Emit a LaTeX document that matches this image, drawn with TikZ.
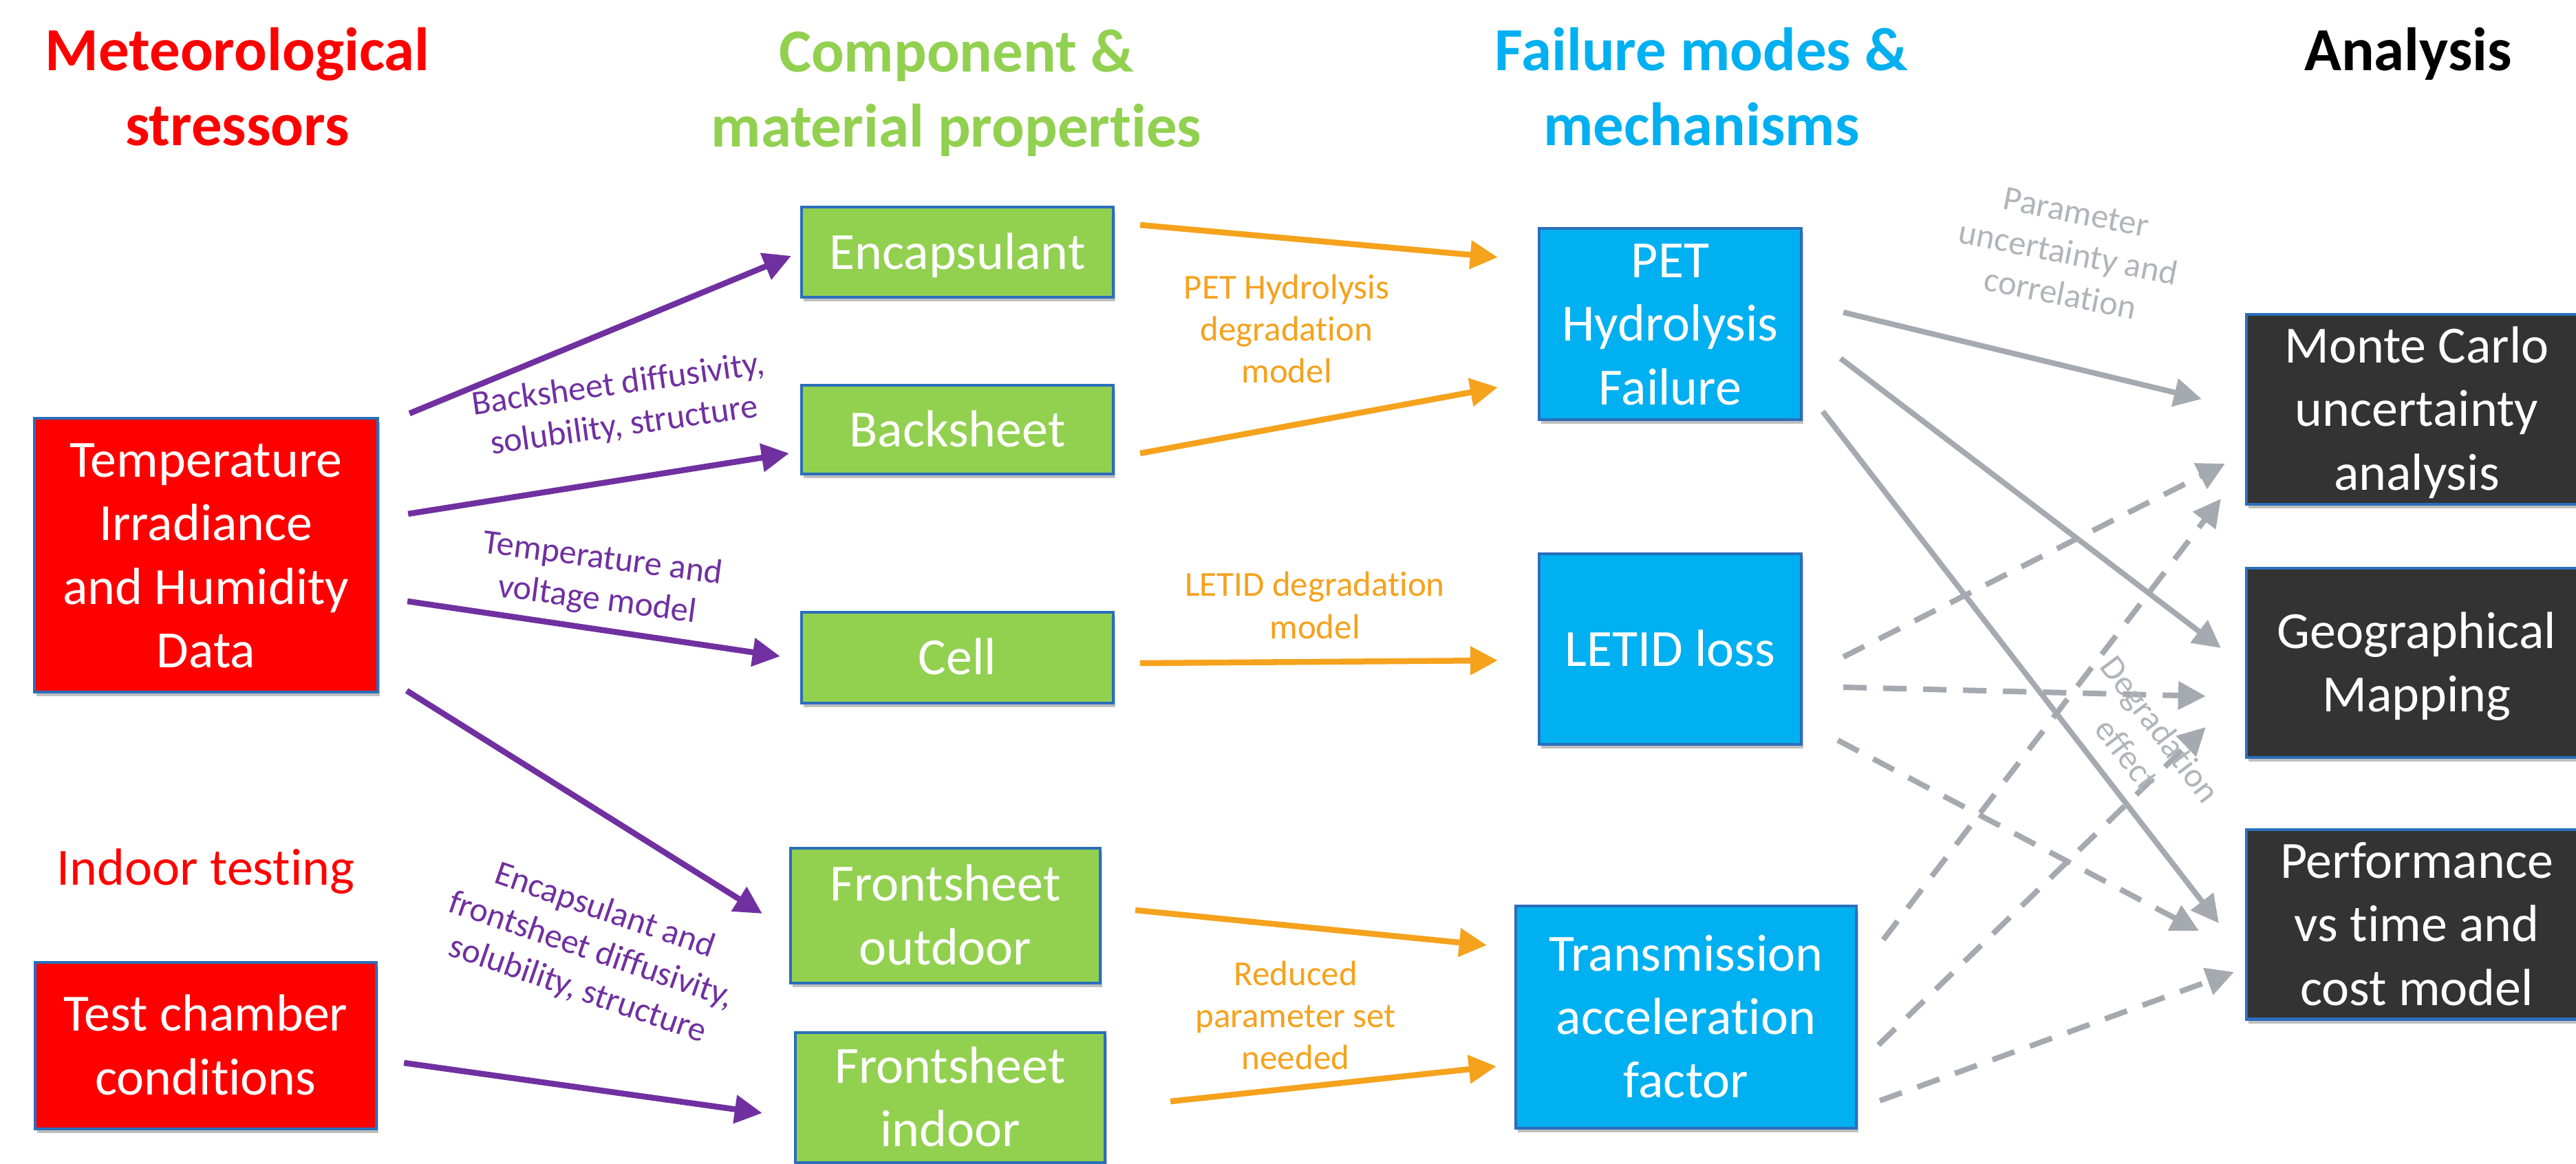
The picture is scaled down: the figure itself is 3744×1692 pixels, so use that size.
\documentclass[tikz,border=0pt]{standalone}
\usepackage{fontspec}
\setmainfont{Carlito}[Ligatures=NoCommon]
\usetikzlibrary{arrows.meta,shadows}
\definecolor{cred}{HTML}{FF0000}
\definecolor{cgreen}{HTML}{92D050}
\definecolor{cblue}{HTML}{00B0F0}
\definecolor{cdark}{HTML}{333333}
\definecolor{cpurple}{HTML}{7030A0}
\definecolor{corange}{HTML}{F5A21D}
\definecolor{cgray}{HTML}{A5AAB0}
\definecolor{cgraytext}{HTML}{B0B5BA}
\definecolor{cborder}{HTML}{2A6EBB}
\newcommand\boxstrut{\rule[-5.8pt]{0pt}{25.8pt}}
\begin{document}
\begin{tikzpicture}[x=0.01cm,y=-0.01cm,
  box/.style={draw=cborder, line width=0.04cm, inner sep=0pt, align=center, text=white,
    font=\fontsize{21.6}{26.2}\selectfont,
    drop shadow={shadow xshift=0.03cm, shadow yshift=-0.06cm, opacity=0.25, fill=black}},
  redbox/.style={box, fill=cred},
  greenbox/.style={box, fill=cgreen},
  bluebox/.style={box, fill=cblue},
  darkbox/.style={box, fill=cdark},
  title/.style={inner sep=0pt, align=center, font=\fontsize{25.3}{31}\selectfont\bfseries},
  plabel/.style={inner sep=0pt, align=center, text=cpurple, font=\fontsize{14.3}{17.2}\selectfont},
  olabel/.style={inner sep=0pt, align=center, text=corange, font=\fontsize{14.5}{17.4}\selectfont},
  glabel/.style={inner sep=0pt, align=center, text=cgraytext, font=\fontsize{14.3}{17.2}\selectfont},
  parrow/.style={draw=cpurple, line width=0.085cm, -{Triangle[length=0.4cm,width=0.4cm]}},
  oarrow/.style={draw=corange, line width=0.085cm, -{Triangle[length=0.4cm,width=0.4cm]}},
  garrow/.style={draw=cgray, line width=0.08cm, -{Triangle[length=0.4cm,width=0.4cm]}},
  gdash/.style={garrow, dash pattern=on 0.34cm off 0.24cm}]
\useasboundingbox (0,0) rectangle (3744,1692);
\clip (0,0) rectangle (3744,1692);
\fill[white] (0,0) rectangle (3744,1692);

% titles
\node[title, text=cred] (tMet) at (345,126.5) {Meteorological\\stressors};
\node[title, text=cgreen] (tComp) at (1390,135.5) {Component \&\\material properties};
\node[title, text=cblue] (tFail) at (2473,126.5) {Failure modes \&\\mechanisms};
\node[title, text=black, anchor=base] (tAna) at (3500,103) {Analysis};

% red boxes
\node[redbox, minimum width=4.99cm, minimum height=3.98cm] (tihd) at (299.5,807)
  {\boxstrut Temperature\\\boxstrut Irradiance\\\boxstrut and Humidity\\\boxstrut Data};
\node[inner sep=0pt, text=cred, font=\fontsize{21.6}{26.2}\selectfont, anchor=base] (indoor) at (299,1287) {Indoor testing};
\node[redbox, minimum width=4.96cm, minimum height=2.42cm] (tcc) at (299,1520)
  {\boxstrut Test chamber\\\boxstrut conditions};

% green boxes
\node[greenbox, minimum width=4.53cm, minimum height=1.31cm] (enc) at (1391.5,366.5) {\boxstrut Encapsulant};
\node[greenbox, minimum width=4.53cm, minimum height=1.29cm] (back) at (1391.5,624.5) {\boxstrut Backsheet};
\node[greenbox, minimum width=4.53cm, minimum height=1.32cm] (cell) at (1391.5,956) {\boxstrut Cell};
\node[greenbox, minimum width=4.50cm, minimum height=1.96cm] (fso) at (1374,1331) {\boxstrut Frontsheet\\\boxstrut outdoor};
\node[greenbox, minimum width=4.50cm, minimum height=1.89cm] (fsi) at (1381,1595.5) {\boxstrut Frontsheet\\\boxstrut indoor};

% blue boxes
\node[bluebox, minimum width=3.81cm, minimum height=2.78cm] (pet) at (2427.5,471) {\boxstrut PET\\\boxstrut Hydrolysis\\\boxstrut Failure};
\node[bluebox, minimum width=3.81cm, minimum height=2.77cm] (letid) at (2427.5,943.5) {\boxstrut LETID loss};
\node[bluebox, minimum width=4.95cm, minimum height=3.23cm] (tran) at (2450.5,1478.5) {\boxstrut Transmission\\\boxstrut acceleration\\\boxstrut factor};

% dark boxes
\node[darkbox, minimum width=4.95cm, minimum height=2.76cm] (mc) at (3512.5,595) {\boxstrut Monte Carlo\\\boxstrut uncertainty\\\boxstrut analysis};
\node[darkbox, minimum width=4.95cm, minimum height=2.75cm] (geo) at (3512.5,963.5) {\boxstrut Geographical\\\boxstrut Mapping};
\node[darkbox, minimum width=4.95cm, minimum height=2.74cm] (perf) at (3512.5,1344) {\boxstrut Performance\\\boxstrut vs time and\\\boxstrut cost model};

% purple arrows
\draw[parrow] ([shift={(44,-206)}]tihd.east) -- ([shift={(-13,5.5)}]enc.west);
\draw[parrow] ([shift={(42,-60)}]tihd.east) -- ([shift={(-16,34.5)}]back.west);
\draw[parrow] ([shift={(41,67)}]tihd.east) -- ([shift={(-29,-2)}]cell.west);
\draw[parrow] ([shift={(40,197)}]tihd.east) -- ([shift={(-39,-3)}]fso.west);
\draw[parrow] ([shift={(38,25)}]tcc.east) -- ([shift={(-46,22.5)}]fsi.west);

% purple labels
\node[plabel, rotate=8] (lBack) at (903,590) {Backsheet diffusivity,\\solubility, structure};
\node[plabel, rotate=-7.5] (lTemp) at (872,843) {Temperature and\\voltage model};
\node[plabel, rotate=-19] (lEnc) at (859,1382) {Encapsulant and\\frontsheet diffusivity,\\solubility, structure};

% orange arrows
\draw[oarrow] ([shift={(37,-39.5)}]enc.east) -- ([shift={(-58,-97)}]pet.west);
\draw[oarrow] ([shift={(37,34.5)}]back.east) -- ([shift={(-58,92)}]pet.west);
\draw[oarrow] ([shift={(37,8)}]cell.east) -- ([shift={(-58,16.5)}]letid.west);
\draw[oarrow] ([shift={(49,-8)}]fso.east) -- ([shift={(-40,-104.5)}]tran.west);
\draw[oarrow] ([shift={(93,5.5)}]fsi.east) -- ([shift={(-26,71.5)}]tran.west);

% orange labels
\node[olabel] (lPet) at (1870,478) {PET Hydrolysis\\degradation\\model};
\node[olabel] (lLetid) at (1911,880) {LETID degradation\\model};
\node[olabel] (lRed) at (1883,1476) {Reduced\\parameter set\\needed};

% gray solid arrows
\draw[garrow] ([shift={(59,-17)}]pet.east) -- ([shift={(-63,-15)}]mc.west);
\draw[garrow] ([shift={(55,50)}]pet.east) -- ([shift={(-35,-21.5)}]geo.west);
\draw[garrow] ([shift={(29,127)}]pet.east) -- ([shift={(-38,-2)}]perf.west);

% gray dashed arrows
\draw[gdash] ([shift={(59,11.5)}]letid.east) -- ([shift={(-29,79)}]mc.west);
\draw[gdash] ([shift={(59,55.5)}]letid.east) -- ([shift={(-57,48.5)}]geo.west);
\draw[gdash] ([shift={(51,132.5)}]letid.east) -- ([shift={(-67,9)}]perf.west);
\draw[gdash] ([shift={(37,-112.5)}]tran.east) -- ([shift={(-35,130)}]mc.west);
\draw[gdash] ([shift={(30,40.5)}]tran.east) -- ([shift={(-57,93.5)}]geo.west);
\draw[gdash] ([shift={(32,121.5)}]tran.east) -- ([shift={(-16,69)}]perf.west);

% gray labels
\node[glabel, rotate=-11] (lParam) at (3006,368) {Parameter\\uncertainty and\\correlation};
\node[glabel, rotate=-53] (lDeg) at (3116,1078) {Degradation\\effect};
\end{tikzpicture}
\end{document}
